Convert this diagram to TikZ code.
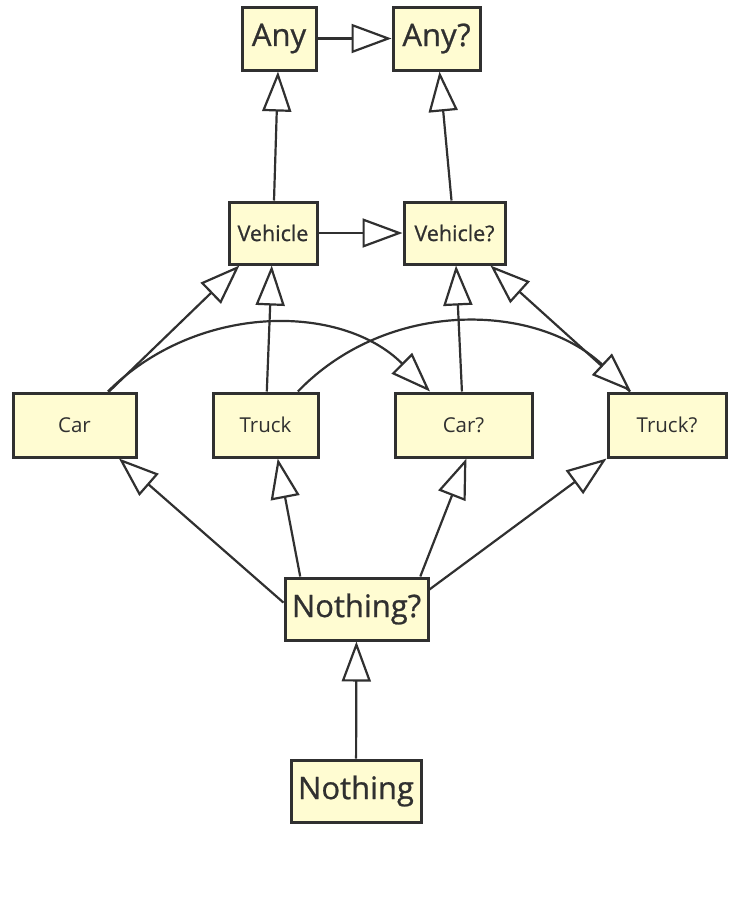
\documentclass[tikz,border=0pt]{standalone}
\usepackage{fontspec}
\setmainfont{Open Sans}
\newfontfamily\medfont{Open Sans}[FakeBold=0.8]
\usetikzlibrary{arrows.meta}
\definecolor{BoxFill}{HTML}{FFFCD2}
\definecolor{BoxLine}{HTML}{303030}
\begin{document}
\begin{tikzpicture}[x=1pt, y=-1pt,
  box/.style = {draw=BoxLine, fill=BoxFill, line width=3pt, inner sep=0pt, text=BoxLine},
  big/.style = {box, font=\medfont\fontsize{31}{31}\selectfont},
  mid/.style = {box, font=\medfont\fontsize{21.5}{21.5}\selectfont},
  small/.style = {box, font=\fontsize{20.5}{20.5}\selectfont},
  inh/.style = {draw=BoxLine, line width=2.2pt, -{Triangle[length=40pt, width=29pt, fill=white]}}]
  \useasboundingbox (0,0) rectangle (730,906);
  \node[big, minimum width=74pt, minimum height=63pt] (any) at (279,38.5) {Any};
  \node[big, minimum width=87pt, minimum height=63pt] (anyq) at (436.5,38.5) {Any?};
  \node[mid, minimum width=88pt, minimum height=62pt] (veh) at (273,233) {Vehicle};
  \node[mid, minimum width=101pt, minimum height=62pt] (vehq) at (454.5,233) {Vehicle?};
  \node[small, minimum width=123pt, minimum height=64pt] (car) at (74.5,425) {Car};
  \node[small, minimum width=105pt, minimum height=64pt] (truck) at (265.5,425) {Truck};
  \node[small, minimum width=137pt, minimum height=64pt] (carq) at (463.5,425) {Car?};
  \node[small, minimum width=118pt, minimum height=64pt] (truckq) at (667,425) {Truck?};
  \node[big, minimum width=143pt, minimum height=62pt] (nq) at (356.5,609) {Nothing?};
  \node[big, minimum width=130pt, minimum height=62pt] (nothing) at (356,791) {Nothing};
  \draw[inh] (any) -- (anyq);
  \draw[inh] (veh) -- (any);
  \draw[inh] (vehq) -- (anyq);
  \draw[inh] (veh) -- (vehq);
  \draw[inh] (car) -- (veh);
  \draw[inh] (truck) -- (veh);
  \draw[inh] (carq) -- (vehq);
  \draw[inh] (truckq) -- (vehq);
  \draw[inh] (car) to[out=45, in=135] (carq);
  \draw[inh] (truck) to[out=46, in=137] (truckq);
  \draw[inh] (nq.175) -- (car.-37);
  \draw[inh] (nq.150) -- (truck.-70);
  \draw[inh] (nq.27) -- (carq.-85);
  \draw[inh] (nq.15) -- (truckq.south west);
  \draw[inh] (nothing) -- (nq);
\end{tikzpicture}
\end{document}
